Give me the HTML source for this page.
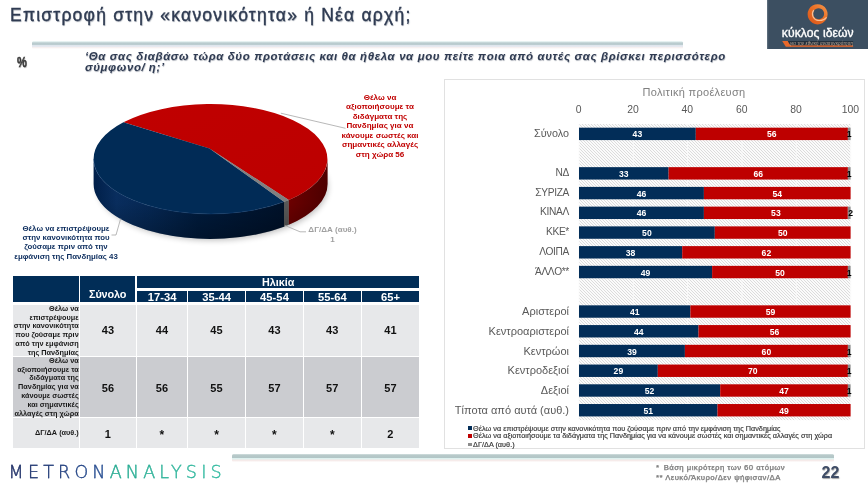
<!DOCTYPE html>
<html lang="el">
<head>
<meta charset="utf-8">
<title>Επιστροφή στην «κανονικότητα» ή Νέα αρχή;</title>
<style>
*{box-sizing:border-box;margin:0;padding:0}
html,body{width:868px;height:488px;background:#fff;overflow:hidden}
body{font-family:"Liberation Sans","DejaVu Sans",sans-serif;color:#333}
#slide{position:relative;width:868px;height:488px;background:#fff;overflow:hidden;will-change:transform}
.abs{position:absolute;white-space:nowrap}
#title{left:10px;top:3.2px;font-size:17.5px;line-height:24px;color:#2f3b52;letter-spacing:1.22px;text-shadow:0.6px 0.6px 1px rgba(60,70,90,.45);-webkit-text-stroke:0.35px #2f3b52}
.hline{position:absolute;height:8px;border-radius:1.5px}
#pct{left:17px;top:55px;transform-origin:0 0;transform:scaleX(.8);font-size:13.8px;font-weight:bold;color:#3a3a3a;-webkit-text-stroke:.45px #3a3a3a;text-shadow:.5px .5px 1px rgba(0,0,0,.3)}
#q{left:85px;top:51px;font-size:11.4px;line-height:10.8px;font-weight:bold;font-style:italic;color:#2f3b52;letter-spacing:.65px;white-space:normal;width:700px;text-shadow:.5px .5px .8px rgba(60,70,90,.4)}
/* logo */
#logo{left:767px;top:0;width:101px;height:49px;background:#3c4f61}
#logo .nm{position:absolute;left:.3px;width:101px;text-align:center;top:25.5px;font-size:12.2px;line-height:14px;color:#fff;letter-spacing:.05px;-webkit-text-stroke:.35px #fff}
#logo .sub{position:absolute;left:17px;top:40px;width:68px;height:5px;background:#2a3947;border-bottom:1px solid #e8742a;font-size:3.6px;line-height:4px;color:#e9a06c;text-align:center;overflow:hidden}
/* pie labels */
.plab{font-size:8.05px;line-height:9.45px;font-weight:bold;text-align:center;white-space:nowrap}
/* table */
#tbl{left:13px;top:276px;width:406px;height:172px}
#tbl div{position:absolute}
.th{background:#012d57;color:#fff;font-weight:bold;text-align:center}
.c1{background:#e7e8ea}.c2{background:#cbccd0}
.rl{font-size:7.3px;line-height:8.75px;font-weight:bold;color:#1a1a1a;text-align:right;padding-right:.2px;white-space:nowrap}
.num{font-size:11px;font-weight:bold;color:#111;text-align:center}
/* chart */
#chart{left:444px;top:79px;width:421px;height:370px;border:1px solid #e1e1e1;background:#fff}
.cat{position:absolute;right:295px;color:#595959;white-space:nowrap;text-align:right}
.ax{position:absolute;top:24.4px;font-size:10.4px;color:#595959;width:30px;margin-left:-15px;text-align:center}
.bl{font-size:8.6px;font-weight:bold;fill:#fff;text-anchor:middle;font-family:"Liberation Sans",sans-serif}
.leg{position:absolute;left:468px;font-size:7.25px;line-height:8px;color:#383838;-webkit-text-stroke:.18px #383838;white-space:nowrap;letter-spacing:.03px}
.leg i{display:inline-block;width:3.5px;height:3.5px;margin-right:1.6px;vertical-align:.6px}
.fn{font-size:7.6px;font-weight:normal;color:#808080;letter-spacing:.52px;-webkit-text-stroke:.25px #808080;text-shadow:.4px .4px .6px rgba(0,0,0,.25)}
#pg{left:821.5px;top:464.4px;font-size:16px;font-weight:bold;color:#3e4c66;text-shadow:.6px .6px 1px rgba(0,0,0,.35)}
#metron{left:8.6px;top:459.5px;font-family:"DejaVu Sans Light","DejaVu Sans","Liberation Sans",sans-serif;font-weight:200;font-size:17.5px;letter-spacing:4.2px;line-height:24px}
</style>
</head>
<body>
<div id="slide">
<div id="title" class="abs">Επιστροφή στην «κανονικότητα» ή Νέα αρχή;</div>
<div class="hline" style="left:32.4px;top:40.8px;width:651px;background:linear-gradient(#eaf4f4 0,#e2efef 1px,#bccdd0 1.7px,#b7c9cc 3.4px,#dde5ec 4.1px,#e6e9f0 5.6px,#f4eded 6.2px,#fbf7f7 7.2px,#fff 8px);filter:blur(.35px)"></div>
<div id="pct" class="abs">%</div>
<div id="q" class="abs">‘Θα σας διαβάσω τώρα δύο προτάσεις και θα ήθελα να μου πείτε ποια από αυτές σας βρίσκει περισσότερο<br>σύμφωνο/<span style="margin-left:3.5px">η;’</span></div>

<div id="logo" class="abs">
<svg width="101" height="49" style="position:absolute;left:0;top:0">
<defs><linearGradient id="og" x1="0" y1="1" x2="1" y2="0"><stop offset="0" stop-color="#d9541a"/><stop offset=".55" stop-color="#ea6f25"/><stop offset="1" stop-color="#f59a4e"/></linearGradient></defs>
<rect x="0" y="0" width="1.2" height="49" fill="#5a6b7a"/>
<path fill-rule="evenodd" fill="url(#og)" d="M50.6 4.2a10 10.1 0 1 0 .01 0zM51.6 8.2a5.5 5.5 0 1 1-.01 0z"/>
<path d="M46.6 10.4A6.4 6.4 0 0 0 50.8 20.4C54.5 21 57.6 19.6 59.3 17.6" fill="none" stroke="#f9c9a3" stroke-width="1.1" stroke-linecap="round" opacity=".9"/>
<path d="M15.2 41.1h5.6l3.6 5.7h-5.6z" fill="#e8682a"/>
<path d="M20.8 41.1h65.3v4.3H23.5z" fill="#22303d"/>
<rect x="23" y="45.4" width="63.1" height="1.4" fill="#e8682a"/>
<text x="54.5" y="44.6" text-anchor="middle" font-family="Liberation Sans, sans-serif" font-style="italic" font-size="4.5" fill="#b9a594" letter-spacing=".12">για την εθνική ανασυγκρότηση</text>
</svg>
<div class="nm">κύκλος ιδεών</div>
</div>

<!-- PIE -->
<svg id="pie" class="abs" style="left:0;top:80px" width="440" height="200" viewBox="0 80 440 200">
<defs>
<filter id="sh" x="-20%" y="-50%" width="140%" height="200%"><feGaussianBlur stdDeviation="3.2"/></filter>
<linearGradient id="bs" x1="0" x2="1" y1="0" y2="0"><stop offset="0" stop-color="#00204b"/><stop offset=".12" stop-color="#092f61"/><stop offset=".3" stop-color="#052855"/><stop offset=".55" stop-color="#001c3f"/><stop offset="1" stop-color="#00122b"/></linearGradient>
<linearGradient id="rs" x1="0" x2="1" y1="0" y2="0"><stop offset="0" stop-color="#700000"/><stop offset="1" stop-color="#4e0000"/></linearGradient>
<linearGradient id="rt" x1="0" x2="1" y1="0" y2="1"><stop offset="0" stop-color="#c00000"/><stop offset="1" stop-color="#bc0000"/></linearGradient>
<linearGradient id="vd" x1="0" x2="0" y1="0" y2="1"><stop offset="0" stop-color="#000" stop-opacity="0"/><stop offset=".55" stop-color="#000" stop-opacity=".04"/><stop offset="1" stop-color="#000" stop-opacity=".28"/></linearGradient>
</defs>
<ellipse cx="212.6" cy="186.9" rx="115" ry="53.0" fill="#000" opacity=".28" filter="url(#sh)"/>
<path d="M93.6 159.0 A117 55.0 0 0 0 284.0 201.8 L284.0 226.7 A117 55.0 0 0 1 93.6 183.9 Z" fill="url(#bs)"/>
<path d="M284.0 201.8 A117 55.0 0 0 0 288.8 199.9 L288.8 224.8 A117 55.0 0 0 1 284.0 226.7 Z" fill="#5c5c5c"/>
<path d="M288.8 199.9 A117 55.0 0 0 0 327.6 159.0 L327.6 183.9 A117 55.0 0 0 1 288.8 224.8 Z" fill="url(#rs)"/>
<path d="M93.6 159.0 A117 55.0 0 0 0 327.6 159.0 L327.6 183.9 A117 55.0 0 0 1 93.6 183.9 Z" fill="url(#vd)"/>
<path d="M209.5 148.5 L288.8 199.9 A117 55.0 0 1 0 123.4 122.3 Z" fill="url(#rt)"/>
<path d="M209.5 148.5 L123.4 122.3 A117 55.0 0 0 0 284.0 201.8 Z" fill="#012b56"/>
<path d="M209.5 148.5 L284.0 201.8 A117 55.0 0 0 0 288.8 199.9 Z" fill="#808080"/>
<path d="M93.6 159.0 A117 55.0 0 0 0 284.0 201.8" fill="none" stroke="#1d4a82" stroke-width=".8" opacity=".45"/>
<g fill="none" stroke="#a6a6a6" stroke-width=".8">
<path d="M280.8 113.2 L345.5 128.3"/>
<path d="M120.7 218.5 L116 235 L111.5 235"/>
<path d="M284.7 225.3 L300 231.8 L306 231.8"/>
</g>
</svg>
<div class="abs plab" style="left:310px;width:140px;top:93.0px;color:#c00000;">Θέλω να<br>αξιοποιήσουμε τα<br>διδάγματα της<br>Πανδημίας για να<br>κάνουμε σωστές και<br>σημαντικές αλλαγές<br>στη χώρα 56</div>
<div class="abs plab" style="left:-4px;width:140px;top:223.5px;color:#0b2c5d;font-size:7.85px">Θέλω να επιστρέψουμε<br>στην κανονικότητα που<br>ζούσαμε πριν από την<br>εμφάνιση της Πανδημίας 43</div>
<div class="abs plab" style="left:262.5px;width:140px;top:225.1px;color:#a0a0a0;">ΔΓ/ΔΑ (αυθ.)<br>1</div>

<!-- TABLE -->
<div id="tbl" class="abs">
<div class="th" style="left:0.4px;top:0.2px;width:65.5px;height:26.3px;"></div>
<div class="th" style="left:67.1px;top:0.2px;width:55.1px;height:26.3px;font-size:10.9px;line-height:13px;padding-top:11.4px;letter-spacing:-.15px">Σύνολο</div>
<div class="th" style="left:124.4px;top:0.2px;width:281.6px;height:11.6px;font-size:10.8px;line-height:12.6px">Ηλικία</div>
<div class="th" style="left:124.4px;top:14.6px;width:49.5px;height:11.9px;font-size:11.2px;line-height:12.7px;letter-spacing:.05px">17-34</div>
<div class="th" style="left:175.3px;top:14.6px;width:56.6px;height:11.9px;font-size:11.2px;line-height:12.7px;letter-spacing:.05px">35-44</div>
<div class="th" style="left:233.3px;top:14.6px;width:56.4px;height:11.9px;font-size:11.2px;line-height:12.7px;letter-spacing:.05px">45-54</div>
<div class="th" style="left:291.1px;top:14.6px;width:56.5px;height:11.9px;font-size:11.2px;line-height:12.7px;letter-spacing:.05px">55-64</div>
<div class="th" style="left:349.0px;top:14.6px;width:57.0px;height:11.9px;font-size:11.2px;line-height:12.7px;letter-spacing:.05px">65+</div>
<div class="c1 rl" style="left:0.4px;top:28.8px;width:65.5px;height:50.8px;padding-top:-0.2px;line-height:8.75px">Θέλω να<br>επιστρέψουμε<br>στην κανονικότητα<br>που ζούσαμε πριν<br>από την εμφάνιση<br>της Πανδημίας</div>
<div class="c1 num" style="left:67.1px;top:28.8px;width:55.6px;height:50.8px;line-height:50.8px;">43</div>
<div class="c1 num" style="left:123.9px;top:28.8px;width:50.0px;height:50.8px;line-height:50.8px;">44</div>
<div class="c1 num" style="left:175.1px;top:28.8px;width:56.8px;height:50.8px;line-height:50.8px;">45</div>
<div class="c1 num" style="left:233.1px;top:28.8px;width:56.6px;height:50.8px;line-height:50.8px;">43</div>
<div class="c1 num" style="left:290.9px;top:28.8px;width:56.7px;height:50.8px;line-height:50.8px;">43</div>
<div class="c1 num" style="left:348.8px;top:28.8px;width:57.2px;height:50.8px;line-height:50.8px;">41</div>
<div class="c2 rl" style="left:0.4px;top:80.6px;width:65.5px;height:60.2px;padding-top:0.1px;line-height:8.87px">Θέλω να<br>αξιοποιήσουμε τα<br>διδάγματα της<br>Πανδημίας για να<br>κάνουμε σωστές<br>και σημαντικές<br>αλλαγές στη χώρα</div>
<div class="c2 num" style="left:67.1px;top:80.6px;width:55.6px;height:60.2px;line-height:60.2px;padding-top:1.2px;">56</div>
<div class="c2 num" style="left:123.9px;top:80.6px;width:50.0px;height:60.2px;line-height:60.2px;padding-top:1.2px;">56</div>
<div class="c2 num" style="left:175.1px;top:80.6px;width:56.8px;height:60.2px;line-height:60.2px;padding-top:1.2px;">55</div>
<div class="c2 num" style="left:233.1px;top:80.6px;width:56.6px;height:60.2px;line-height:60.2px;padding-top:1.2px;">57</div>
<div class="c2 num" style="left:290.9px;top:80.6px;width:56.7px;height:60.2px;line-height:60.2px;padding-top:1.2px;">57</div>
<div class="c2 num" style="left:348.8px;top:80.6px;width:57.2px;height:60.2px;line-height:60.2px;padding-top:1.2px;">57</div>
<div class="c1 rl" style="left:0.4px;top:141.7px;width:65.5px;height:30.1px;padding-top:11.7px;line-height:8.75px">ΔΓ/ΔΑ (αυθ.)</div>
<div class="c1 num" style="left:67.1px;top:141.7px;width:55.6px;height:30.1px;line-height:30.1px;padding-top:1.2px;">1</div>
<div class="c1 num" style="left:123.9px;top:141.7px;width:50.0px;height:30.1px;line-height:30.1px;padding-top:1.2px;font-size:12px;padding-top:2.4px;">*</div>
<div class="c1 num" style="left:175.1px;top:141.7px;width:56.8px;height:30.1px;line-height:30.1px;padding-top:1.2px;font-size:12px;padding-top:2.4px;">*</div>
<div class="c1 num" style="left:233.1px;top:141.7px;width:56.6px;height:30.1px;line-height:30.1px;padding-top:1.2px;font-size:12px;padding-top:2.4px;">*</div>
<div class="c1 num" style="left:290.9px;top:141.7px;width:56.7px;height:30.1px;line-height:30.1px;padding-top:1.2px;font-size:12px;padding-top:2.4px;">*</div>
<div class="c1 num" style="left:348.8px;top:141.7px;width:57.2px;height:30.1px;line-height:30.1px;padding-top:1.2px;">2</div>
</div>

<!-- CHART -->
<div id="chart" class="abs">
<div style="position:absolute;left:189px;top:6px;width:120px;text-align:center;font-size:11px;letter-spacing:.3px;color:#7f7f7f;white-space:nowrap">Πολιτική προέλευση</div>
<div class="ax" style="left:133.7px">0</div>
<div class="ax" style="left:188.0px">20</div>
<div class="ax" style="left:242.3px">40</div>
<div class="ax" style="left:296.7px">60</div>
<div class="ax" style="left:351.0px">80</div>
<div class="ax" style="left:405.3px">100</div>
<svg style="position:absolute;left:133.7px;top:43.5px;overflow:visible" width="277.6" height="296.1">
<defs><pattern id="pt" width="3" height="3" patternUnits="userSpaceOnUse"><rect width="3" height="3" fill="#fbfbfb"/><rect x="0" y="0" width="1" height="1" fill="#dcdcdc"/><rect x="1" y="1" width="1" height="1" fill="#dcdcdc"/><rect x="2" y="2" width="1" height="1" fill="#dcdcdc"/></pattern></defs>
<rect x="0" y="0" width="271.6" height="296.1" fill="url(#pt)"/>
<rect x="-0.5" y="0" width="1" height="296.1" fill="#fafafa" opacity=".9"/>
<rect x="53.8" y="0" width="1" height="296.1" fill="#fafafa" opacity=".9"/>
<rect x="108.1" y="0" width="1" height="296.1" fill="#fafafa" opacity=".9"/>
<rect x="162.5" y="0" width="1" height="296.1" fill="#fafafa" opacity=".9"/>
<rect x="216.8" y="0" width="1" height="296.1" fill="#fafafa" opacity=".9"/>
<rect x="271.1" y="0" width="1" height="296.1" fill="#fafafa" opacity=".9"/>
<rect x="0" y="2.5" width="271.6" height="14.8" fill="#fff" opacity=".0"/>
<rect x="0" y="3.67" width="116.8" height="12.4" fill="#022d58"/>
<rect x="116.8" y="3.67" width="152.1" height="12.4" fill="#be0000"/>
<rect x="268.9" y="3.67" width="2.7" height="12.4" fill="#8c8c8c"/>
<text class="bl" x="58.4" y="13.4">43</text>
<text class="bl" x="192.8" y="13.4">56</text>
<text class="bl" style="fill:#000" x="270.2" y="13.4">1</text>
<rect x="0" y="41.9" width="271.6" height="14.8" fill="#fff" opacity=".0"/>
<rect x="0" y="43.15" width="89.6" height="12.4" fill="#022d58"/>
<rect x="89.6" y="43.15" width="179.3" height="12.4" fill="#be0000"/>
<rect x="268.9" y="43.15" width="2.7" height="12.4" fill="#8c8c8c"/>
<text class="bl" x="44.8" y="52.8">33</text>
<text class="bl" x="179.3" y="52.8">66</text>
<text class="bl" style="fill:#000" x="270.2" y="52.8">1</text>
<rect x="0" y="61.7" width="271.6" height="14.8" fill="#fff" opacity=".0"/>
<rect x="0" y="62.89" width="124.9" height="12.4" fill="#022d58"/>
<rect x="124.9" y="62.89" width="146.7" height="12.4" fill="#be0000"/>
<text class="bl" x="62.5" y="72.6">46</text>
<text class="bl" x="198.3" y="72.6">54</text>
<rect x="0" y="81.4" width="271.6" height="14.8" fill="#fff" opacity=".0"/>
<rect x="0" y="82.63" width="124.9" height="12.4" fill="#022d58"/>
<rect x="124.9" y="82.63" width="143.9" height="12.4" fill="#be0000"/>
<rect x="268.9" y="82.63" width="2.7" height="12.4" fill="#8c8c8c"/>
<text class="bl" x="62.5" y="92.3">46</text>
<text class="bl" x="196.9" y="92.3">53</text>
<text class="bl" style="fill:#000" x="271.6" y="92.3">2</text>
<rect x="0" y="101.2" width="271.6" height="14.8" fill="#fff" opacity=".0"/>
<rect x="0" y="102.37" width="135.8" height="12.4" fill="#022d58"/>
<rect x="135.8" y="102.37" width="135.8" height="12.4" fill="#be0000"/>
<text class="bl" x="67.9" y="112.1">50</text>
<text class="bl" x="203.7" y="112.1">50</text>
<rect x="0" y="120.9" width="271.6" height="14.8" fill="#fff" opacity=".0"/>
<rect x="0" y="122.11" width="103.2" height="12.4" fill="#022d58"/>
<rect x="103.2" y="122.11" width="168.4" height="12.4" fill="#be0000"/>
<text class="bl" x="51.6" y="131.8">38</text>
<text class="bl" x="187.4" y="131.8">62</text>
<rect x="0" y="140.7" width="271.6" height="14.8" fill="#fff" opacity=".0"/>
<rect x="0" y="141.85" width="133.1" height="12.4" fill="#022d58"/>
<rect x="133.1" y="141.85" width="135.8" height="12.4" fill="#be0000"/>
<rect x="268.9" y="141.85" width="2.7" height="12.4" fill="#8c8c8c"/>
<text class="bl" x="66.5" y="151.5">49</text>
<text class="bl" x="201.0" y="151.5">50</text>
<text class="bl" style="fill:#000" x="270.2" y="151.5">1</text>
<rect x="0" y="180.1" width="271.6" height="14.8" fill="#fff" opacity=".0"/>
<rect x="0" y="181.33" width="111.4" height="12.4" fill="#022d58"/>
<rect x="111.4" y="181.33" width="160.2" height="12.4" fill="#be0000"/>
<text class="bl" x="55.7" y="191.0">41</text>
<text class="bl" x="191.5" y="191.0">59</text>
<rect x="0" y="199.9" width="271.6" height="14.8" fill="#fff" opacity=".0"/>
<rect x="0" y="201.07" width="119.5" height="12.4" fill="#022d58"/>
<rect x="119.5" y="201.07" width="152.1" height="12.4" fill="#be0000"/>
<text class="bl" x="59.8" y="210.8">44</text>
<text class="bl" x="195.6" y="210.8">56</text>
<rect x="0" y="219.6" width="271.6" height="14.8" fill="#fff" opacity=".0"/>
<rect x="0" y="220.81" width="105.9" height="12.4" fill="#022d58"/>
<rect x="105.9" y="220.81" width="163.0" height="12.4" fill="#be0000"/>
<rect x="268.9" y="220.81" width="2.7" height="12.4" fill="#8c8c8c"/>
<text class="bl" x="53.0" y="230.5">39</text>
<text class="bl" x="187.4" y="230.5">60</text>
<text class="bl" style="fill:#000" x="270.2" y="230.5">1</text>
<rect x="0" y="239.3" width="271.6" height="14.8" fill="#fff" opacity=".0"/>
<rect x="0" y="240.55" width="78.8" height="12.4" fill="#022d58"/>
<rect x="78.8" y="240.55" width="190.1" height="12.4" fill="#be0000"/>
<rect x="268.9" y="240.55" width="2.7" height="12.4" fill="#8c8c8c"/>
<text class="bl" x="39.4" y="250.2">29</text>
<text class="bl" x="173.8" y="250.2">70</text>
<text class="bl" style="fill:#000" x="270.2" y="250.2">1</text>
<rect x="0" y="259.1" width="271.6" height="14.8" fill="#fff" opacity=".0"/>
<rect x="0" y="260.29" width="141.2" height="12.4" fill="#022d58"/>
<rect x="141.2" y="260.29" width="127.7" height="12.4" fill="#be0000"/>
<rect x="268.9" y="260.29" width="2.7" height="12.4" fill="#8c8c8c"/>
<text class="bl" x="70.6" y="270.0">52</text>
<text class="bl" x="205.1" y="270.0">47</text>
<text class="bl" style="fill:#000" x="270.2" y="270.0">1</text>
<rect x="0" y="278.8" width="271.6" height="14.8" fill="#fff" opacity=".0"/>
<rect x="0" y="280.03" width="138.5" height="12.4" fill="#022d58"/>
<rect x="138.5" y="280.03" width="133.1" height="12.4" fill="#be0000"/>
<text class="bl" x="69.3" y="289.7">51</text>
<text class="bl" x="205.1" y="289.7">49</text>
</svg>
<div class="cat" style="top:46.4px;line-height:14px;font-size:10.8px;letter-spacing:0">Σύνολο</div>
<div class="cat" style="top:85.8px;line-height:14px;font-size:10.2px;letter-spacing:-.33px">ΝΔ</div>
<div class="cat" style="top:105.6px;line-height:14px;font-size:10.2px;letter-spacing:-.33px">ΣΥΡΙΖΑ</div>
<div class="cat" style="top:125.3px;line-height:14px;font-size:10.2px;letter-spacing:-.33px">ΚΙΝΑΛ</div>
<div class="cat" style="top:145.1px;line-height:14px;font-size:10.2px;letter-spacing:-.33px">ΚΚΕ*</div>
<div class="cat" style="top:164.8px;line-height:14px;font-size:10.2px;letter-spacing:-.33px">ΛΟΙΠΑ</div>
<div class="cat" style="top:184.5px;line-height:14px;font-size:10.2px;letter-spacing:-.33px">ΆΛΛΟ**</div>
<div class="cat" style="top:224.0px;line-height:14px;font-size:11px;letter-spacing:0">Αριστεροί</div>
<div class="cat" style="top:243.8px;line-height:14px;font-size:11px;letter-spacing:0">Κεντροαριστεροί</div>
<div class="cat" style="top:263.5px;line-height:14px;font-size:11px;letter-spacing:0">Κεντρώοι</div>
<div class="cat" style="top:283.2px;line-height:14px;font-size:11px;letter-spacing:0">Κεντροδεξιοί</div>
<div class="cat" style="top:303.0px;line-height:14px;font-size:11px;letter-spacing:0">Δεξιοί</div>
<div class="cat" style="top:322.7px;line-height:14px;font-size:11px;letter-spacing:0">Τίποτα από αυτά (αυθ.)</div>
</div>
<div class="leg" style="top:424.5px"><i style="background:#022d58"></i>Θέλω να επιστρέψουμε στην κανονικότητα που ζούσαμε πριν από την εμφάνιση της Πανδημίας</div>
<div class="leg" style="top:432.3px"><i style="background:#be0000"></i>Θέλω να αξιοποιήσουμε τα διδάγματα της Πανδημίας για να κάνουμε σωστές και σημαντικές αλλαγές στη χώρα</div>
<div class="leg" style="top:440.8px"><i style="background:#8c8c8c"></i>ΔΓ/ΔΑ (αυθ.)</div>

<div class="hline" style="left:232.4px;top:454px;width:602px;background:linear-gradient(#e4eeee 0,#b9caca .8px,#b2c6c7 3.6px,#dcf0ee 4.2px,#e2f4f2 5.2px,#f3e6e4 5.8px,#f8efee 7px,#fff 8px);filter:blur(.35px)"></div>
<div class="abs fn" style="left:656px;top:462.6px">*<span style="margin-left:4.2px">Βάση μικρότερη των 60 ατόμων</span></div>
<div class="abs fn" style="left:656px;top:472.5px">** Λευκό/Άκυρο/Δεν ψήφισαν/ΔΑ</div>
<div id="pg" class="abs">22</div>
<div id="metron" class="abs"><span style="background:linear-gradient(90deg,#1d2757,#2b5fa8);-webkit-background-clip:text;background-clip:text;color:transparent;-webkit-text-stroke:.3px rgba(36,60,124,.8)">METRON</span><span style="background:linear-gradient(90deg,#1fa58a,#44c9ae);-webkit-background-clip:text;background-clip:text;color:transparent;-webkit-text-stroke:.3px rgba(45,176,154,.8)">ANALYSIS</span></div>
</div>
</body>
</html>
